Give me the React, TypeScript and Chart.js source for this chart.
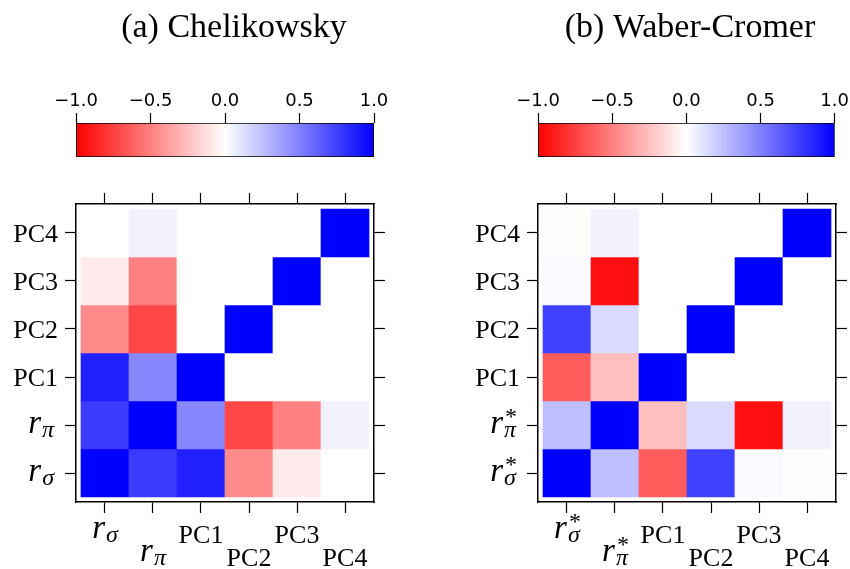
import React, { useEffect, useRef } from "react";
import { Chart, registerables } from "chart.js";

Chart.register(...registerables);

// ---------- data ----------
const varLabelsA = ["r_σ", "r_π", "PC1", "PC2", "PC3", "PC4"];
const varLabelsB = ["r_σ^*", "r_π^*", "PC1", "PC2", "PC3", "PC4"];
const titleA = "(a) Chelikowsky";
const titleB = "(b) Waber-Cromer";
const colorbarTicks = [-1, -0.5, 0, 0.5, 1];

// Chelikowsky correlations (rows bottom -> top: r_σ, r_π, PC1, PC2, PC3, PC4)
const chelRsigma = [1.0, 0.77, 0.87, -0.46, -0.08, 0.0];
const chelRpi = [0.77, 1.0, 0.47, -0.72, -0.5, 0.05];
const chelPC1 = [0.87, 0.47, 1.0, 0.0, 0.0, 0.0];
const chelPC2 = [-0.46, -0.72, 0.0, 1.0, 0.0, 0.0];
const chelPC3 = [-0.08, -0.5, 0.0, 0.0, 1.0, 0.0];
const chelPC4 = [0.0, 0.05, 0.0, 0.0, 0.0, 1.0];

// Waber-Cromer correlations
const waberRsigma = [1.0, 0.25, -0.64, 0.75, 0.02, -0.01];
const waberRpi = [0.25, 1.0, -0.25, 0.14, -0.94, 0.05];
const waberPC1 = [-0.64, -0.25, 1.0, 0.0, 0.0, 0.0];
const waberPC2 = [0.75, 0.14, 0.0, 1.0, 0.0, 0.0];
const waberPC3 = [0.02, -0.94, 0.0, 0.0, 1.0, 0.0];
const waberPC4 = [-0.01, 0.05, 0.0, 0.0, 0.0, 1.0];

const chelRows = [chelRsigma, chelRpi, chelPC1, chelPC2, chelPC3, chelPC4];
const waberRows = [waberRsigma, waberRpi, waberPC1, waberPC2, waberPC3, waberPC4];

// ---------- helpers ----------
function corrColor(v: number): string {
  const t = Math.max(-1, Math.min(1, v));
  let r: number, g: number, b: number;
  if (t < 0) {
    r = 255;
    g = b = Math.round(255 * (1 + t));
  } else {
    b = 255;
    r = g = Math.round(255 * (1 - t));
  }
  return `rgb(${r},${g},${b})`;
}

const SERIF = '"Liberation Serif", "Times New Roman", serif';
const PC_FONT = `26px ${SERIF}`;
const MATH_FONT = `italic 33px ${SERIF}`;
const SCRIPT_FONT = `italic 24px ${SERIF}`;
const SUP_FONT = `24px ${SERIF}`;

function drawLabel(ctx: CanvasRenderingContext2D, text: string, x: number, y: number, mode: "center" | "right") {
  ctx.textBaseline = "alphabetic";
  if (!text.includes("_")) {
    ctx.font = PC_FONT;
    if (mode === "center") {
      ctx.textAlign = "center";
      ctx.fillText(text, x, y);
    } else {
      ctx.textAlign = "right";
      ctx.fillText(text, x, y + 9);
    }
    return;
  }
  const [base, rest] = text.split("_");
  const [sub, sup] = rest.split("^");
  ctx.font = MATH_FONT;
  const wBase = ctx.measureText(base).width;
  ctx.font = SCRIPT_FONT;
  const wSub = ctx.measureText(sub).width;
  ctx.font = SUP_FONT;
  const wSup = sup ? ctx.measureText(sup).width : 0;
  const scriptW = Math.max(wSub, wSup);
  const total = wBase + 1 + scriptW;
  let x0: number, baseline: number;
  if (mode === "center") {
    x0 = x - total / 2;
    baseline = y - 5;
  } else {
    x0 = x - 4 - total;
    baseline = y + 7.5;
  }
  ctx.textAlign = "left";
  ctx.font = MATH_FONT;
  ctx.fillText(base, x0, baseline);
  ctx.font = SCRIPT_FONT;
  ctx.fillText(sub, x0 + wBase + 1, baseline + 4);
  if (sup) {
    ctx.font = SUP_FONT;
    ctx.fillText(sup, x0 + wBase + 2, baseline - 9);
  }
}

function makeLabelPlugin(labels: string[]) {
  return {
    id: "axisLabels",
    afterDraw(chart: any) {
      const { ctx, chartArea, scales } = chart;
      ctx.save();
      ctx.fillStyle = "#000";
      labels.forEach((lab, i) => {
        const px = scales.x.getPixelForValue(i + 1);
        const rowBase = chartArea.bottom + (i % 2 === 0 ? 41 : 64);
        drawLabel(ctx, lab, px, rowBase, "center");
        const py = scales.y.getPixelForValue(i + 1);
        drawLabel(ctx, lab, chartArea.left - 18, py, "right");
      });
      ctx.restore();
    },
  };
}

function makeTitlePlugin(title: string, x: number) {
  return {
    id: "panelTitle",
    afterDraw(chart: any) {
      const ctx = chart.ctx;
      ctx.save();
      ctx.fillStyle = "#000";
      ctx.font = `34px ${SERIF}`;
      ctx.textAlign = "center";
      ctx.textBaseline = "alphabetic";
      ctx.fillText(title, x, 37);
      ctx.restore();
    },
  };
}

function heatmapConfig(labels: string[], rows: number[][], leftW: number, rightW: number): any {
  const data: any[] = [];
  const colors: string[] = [];
  rows.forEach((row, r) =>
    row.forEach((v, c) => {
      data.push({ x: c + 1, y: [r + 0.5, r + 1.5] });
      colors.push(corrColor(v));
    })
  );
  const pad = 0.104;
  const lo = 0.5 - pad;
  const hi = labels.length + 0.5 + pad;
  const axis = (pos: string, size: number) => ({
    type: "linear",
    position: pos,
    min: lo,
    max: hi,
    offset: false,
    afterBuildTicks: (s: any) => {
      s.ticks = labels.map((_, i) => ({ value: i + 1 }));
    },
    afterFit: (s: any) => {
      if (s.isHorizontal()) s.height = size;
      else s.width = size;
    },
    grid: {
      offset: false,
      drawOnChartArea: false,
      drawTicks: true,
      tickLength: 11,
      tickWidth: 1.2,
      tickColor: "#000",
      color: "#000",
    },
    border: { display: true, color: "#000", width: 1.5 },
    ticks: { display: false },
  });
  return {
    type: "bar",
    data: {
      datasets: [
        {
          data,
          backgroundColor: colors,
          borderWidth: 0,
          barPercentage: 1,
          categoryPercentage: 1,
          xAxisID: "x",
          yAxisID: "y",
        },
      ],
    },
    options: {
      animation: false,
      responsive: false,
      devicePixelRatio: 1,
      events: [],
      layout: { padding: 0 },
      plugins: { legend: { display: false }, tooltip: { enabled: false } },
      scales: {
        x: axis("bottom", 67),
        x2: axis("top", 34),
        y: axis("left", leftW),
        y2: axis("right", rightW),
      },
    },
    plugins: [makeLabelPlugin(labels)],
  };
}

function colorbarConfig(title: string, titleX: number, padLeft: number, padRight: number): any {
  const fmt = (v: number) => (v < 0 ? "\u2212" : "") + Math.abs(v).toFixed(1);
  return {
    type: "bar",
    data: {
      datasets: [
        {
          data: [{ x: [colorbarTicks[0], colorbarTicks[colorbarTicks.length - 1]], y: 0 }],
          backgroundColor: (c: any) => {
            const chart = c.chart;
            const xs = chart.scales && chart.scales.x;
            if (!chart.chartArea || !xs) return "#fff";
            const x0 = xs.getPixelForValue(-1);
            const x1 = xs.getPixelForValue(1);
            const g = chart.ctx.createLinearGradient(x0, 0, x1, 0);
            colorbarTicks.forEach((v) => {
              g.addColorStop((xs.getPixelForValue(v) - x0) / (x1 - x0), corrColor(v));
            });
            return g;
          },
          borderColor: "#000",
          borderWidth: 1.2,
          borderSkipped: false,
          barPercentage: 1,
          categoryPercentage: 1,
        },
      ],
    },
    options: {
      indexAxis: "y",
      animation: false,
      responsive: false,
      devicePixelRatio: 1,
      events: [],
      layout: { padding: { left: padLeft, right: padRight, top: 0, bottom: 13 } },
      plugins: { legend: { display: false }, tooltip: { enabled: false } },
      scales: {
        x: {
          type: "linear",
          position: "top",
          min: -1,
          max: 1,
          offset: false,
          afterBuildTicks: (s: any) => {
            s.ticks = colorbarTicks.map((v) => ({ value: v }));
          },
          afterFit: (s: any) => {
            s.height = 123;
          },
          grid: {
            offset: false,
            drawOnChartArea: false,
            drawTicks: true,
            tickLength: 10,
            tickWidth: 1.2,
            tickColor: "#000",
          },
          border: { display: false },
          ticks: {
            font: { family: '"DejaVu Sans", sans-serif', size: 18 },
            color: "#000",
            padding: 1,
            autoSkip: false,
            maxRotation: 0,
            callback: (v: any) => fmt(Number(v)),
          },
        },
        y: {
          type: "linear",
          min: -0.5,
          max: 0.5,
          offset: false,
          display: false,
          afterBuildTicks: (s: any) => {
            s.ticks = [{ value: 0 }];
          },
        },
      },
    },
    plugins: [makeTitlePlugin(title, titleX)],
  };
}

export default function App() {
  const cbA = useRef<HTMLCanvasElement>(null);
  const cbB = useRef<HTMLCanvasElement>(null);
  const hmA = useRef<HTMLCanvasElement>(null);
  const hmB = useRef<HTMLCanvasElement>(null);

  useEffect(() => {
    const charts: Chart[] = [];
    charts.push(new Chart(cbA.current!, colorbarConfig(titleA, 234, 76, 51)));
    charts.push(new Chart(cbB.current!, colorbarConfig(titleB, 265, 113, 13)));
    charts.push(new Chart(hmA.current!, heatmapConfig(varLabelsA, chelRows, 76, 51)));
    charts.push(new Chart(hmB.current!, heatmapConfig(varLabelsB, waberRows, 113, 14)));
    return () => charts.forEach((c) => c.destroy());
  }, []);

  const abs = (left: number, top: number, w: number, h: number): React.CSSProperties => ({
    position: "absolute",
    left,
    top,
    width: w,
    height: h,
    display: "block",
  });

  return (
    <div style={{ position: "absolute", left: 0, top: 0, width: 850, height: 569, background: "#fff", overflow: "hidden" }}>
      <canvas ref={cbA} width={425} height={170} style={abs(0, 0, 425, 170)} />
      <canvas ref={cbB} width={425} height={170} style={abs(425, 0, 425, 170)} />
      <canvas ref={hmA} width={425} height={399} style={abs(0, 170, 425, 399)} />
      <canvas ref={hmB} width={425} height={399} style={abs(425, 170, 425, 399)} />
    </div>
  );
}
